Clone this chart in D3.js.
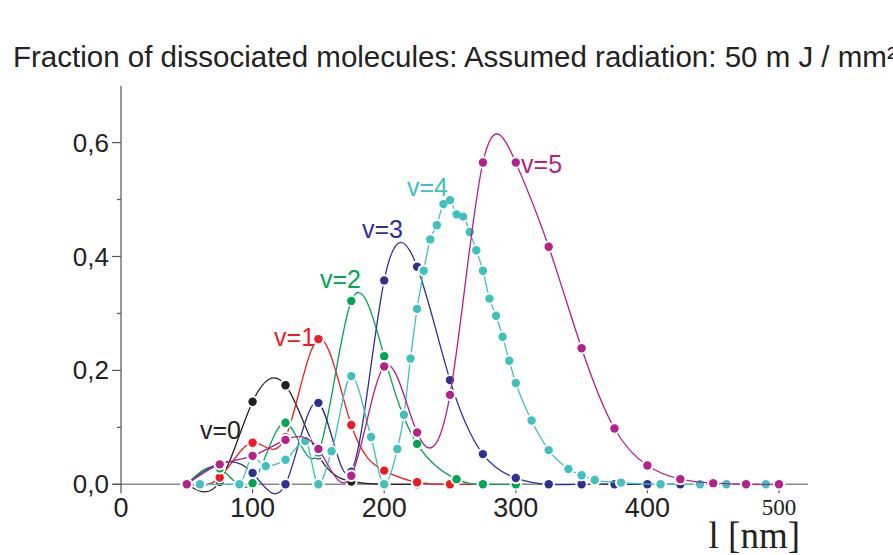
<!DOCTYPE html>
<html>
<head>
<meta charset="utf-8">
<script src="https://cdn.jsdelivr.net/npm/d3@7/dist/d3.min.js"></script>
<style>
  html, body { margin: 0; padding: 0; background: #fff; }
  svg { display: block; }
</style>
</head>
<body>
<svg id="chart" width="893" height="555"></svg>
<script>
// Wavelength grid (nm) shared by most vibrational levels
const lambdaGrid = [50, 75, 100, 125, 150, 175, 200, 225, 250, 275, 300, 325, 350, 375, 400, 425, 450, 475, 500];

// Fraction of dissociated molecules per vibrational level v
const v0 = { x: [50, 75, 100, 125, 150, 175, 200, 225],
             y: [0, 0.0045, 0.145, 0.174, 0.051, 0.005, 0, 0] };
const v1 = { x: [50, 75, 100, 125, 150, 175, 200, 225, 250, 275],
             y: [0, 0.012, 0.073, 0.0825, 0.255, 0.104, 0.024, 0.0035, 0, 0] };
const v2 = { x: [50, 75, 100, 125, 150, 175, 200, 225, 255, 275, 300],
             y: [0, 0.028, 0.002, 0.108, 0.056, 0.322, 0.225, 0.071, 0.009, 0, 0] };
const v3 = { x: [50, 75, 100, 125, 150, 175, 200, 225, 250, 275, 300, 325, 350, 375, 400, 425],
             y: [0, 0.037, 0.02, 0, 0.143, 0.022, 0.358, 0.382, 0.183, 0.053, 0.011, 0, 0, 0, 0, 0] };
const v4 = { x: [60, 90, 100, 110, 125, 140, 150, 160, 175, 190, 200, 210, 215, 220, 225, 230, 235, 240, 245, 250,
                 255, 260, 265, 270, 275, 280, 285, 290, 295, 300, 312, 325, 340, 350, 360, 380, 410, 440, 460, 490],
             y: [0, 0, 0.048, 0.032, 0.043, 0.076, 0, 0.058, 0.19, 0.083, 0, 0.062, 0.122, 0.221, 0.308, 0.375, 0.43, 0.455, 0.492, 0.499,
                 0.474, 0.47, 0.443, 0.411, 0.375, 0.326, 0.296, 0.259, 0.217, 0.178, 0.112, 0.06, 0.027, 0.016, 0.0075, 0.003, 0, 0, 0, 0] };
const v5 = { x: lambdaGrid,
             y: [0, 0.035, 0.05, 0.078, 0.062, 0.015, 0.207, 0.091, 0.157, 0.565, 0.565, 0.417, 0.239, 0.098, 0.033, 0.009, 0.002, 0, 0] };

const seriesNames = ["v=0", "v=1", "v=2", "v=3", "v=4", "v=5"];
const seriesData = [v0, v1, v2, v3, v4, v5];
const seriesColors = ["#231f20", "#ed1c24", "#00a651", "#2e3192", "#3fc1bf", "#b3218d"];
// label anchor positions in data units (lambda, fraction), text baseline-left
const labelAt = [[60, 0.0795], [116.3, 0.243], [151.2, 0.345], [183.1, 0.4325], [217.3, 0.506], [304, 0.5466]];

const yTicksMajor = [0, 0.2, 0.4, 0.6];
const yTicksMinor = [0.1, 0.3, 0.5];
const xTicks = [0, 100, 200, 300, 400, 500];

const svg = d3.select("#chart");
const x = d3.scaleLinear().domain([0, 500]).range([121, 779]);
const y = d3.scaleLinear().domain([0, 0.7]).range([484.3, 85.65]);

const axisColor = "#555";
const sans = "'Liberation Sans', Arial, sans-serif";
const serif = "'Liberation Serif', 'Times New Roman', serif";

// Title
svg.append("text")
  .attr("x", 13).attr("y", 67)
  .attr("font-family", sans).attr("font-size", 29.5).attr("fill", "#222")
  .text("Fraction of dissociated molecules: Assumed radiation: 50 m J / mm²");

// Axes
const ax = svg.append("g");
ax.append("line")
  .attr("x1", x(-6)).attr("x2", x(522)).attr("y1", y(0)).attr("y2", y(0))
  .attr("stroke", "#888").attr("stroke-width", 1.6);
ax.append("line")
  .attr("x1", x(0)).attr("x2", x(0)).attr("y1", y(0)).attr("y2", y(0.7))
  .attr("stroke", axisColor).attr("stroke-width", 1.2);

ax.selectAll(".ymaj").data(yTicksMajor).join("line")
  .attr("x1", x(0) - 9).attr("x2", x(0)).attr("y1", d => y(d)).attr("y2", d => y(d))
  .attr("stroke", axisColor).attr("stroke-width", 1.2);
ax.selectAll(".ymin").data(yTicksMinor).join("line")
  .attr("x1", x(0) - 4).attr("x2", x(0)).attr("y1", d => y(d)).attr("y2", d => y(d))
  .attr("stroke", axisColor).attr("stroke-width", 1.2);
ax.selectAll(".ylab").data(yTicksMajor).join("text")
  .attr("x", x(0) - 12).attr("y", d => y(d) + 9)
  .attr("text-anchor", "end")
  .attr("font-family", sans).attr("font-size", 26).attr("fill", "#222")
  .text(d => d3.format(".1f")(d).replace(".", ","));

ax.selectAll(".xt").data(xTicks).join("line")
  .attr("x1", d => x(d)).attr("x2", d => x(d)).attr("y1", y(0)).attr("y2", y(0) + 9)
  .attr("stroke", axisColor).attr("stroke-width", 1.2);
ax.selectAll(".xlab").data(xTicks).join("text")
  .attr("x", d => x(d)).attr("y", d => d === 500 ? 515 : 517)
  .attr("text-anchor", "middle")
  .attr("font-family", d => d === 500 ? serif : sans)
  .attr("font-size", d => d === 500 ? 23 : 27)
  .attr("fill", "#222")
  .text(d => d);

svg.append("text")
  .attr("x", 800).attr("y", 548).attr("text-anchor", "end")
  .attr("font-family", serif).attr("font-size", 37).attr("fill", "#222")
  .text("l [nm]");

// Series: smooth curves through the points, dots with a white halo
seriesData.forEach((s, i) => {
  const pts = s.x.map((xv, j) => [xv, s.y[j]]);
  const curve = i === 4 ? d3.curveMonotoneX : d3.curveNatural;
  const line = d3.line().x(d => x(d[0])).y(d => y(d[1])).curve(curve);
  const g = svg.append("g");
  g.append("path").attr("d", line(pts))
    .attr("fill", "none").attr("stroke", seriesColors[i]).attr("stroke-width", 1.3);
  g.selectAll(".halo").data(pts).join("circle")
    .attr("cx", d => x(d[0])).attr("cy", d => y(d[1])).attr("r", 6.2).attr("fill", "#fff");
  g.selectAll(".dot").data(pts).join("circle")
    .attr("cx", d => x(d[0])).attr("cy", d => y(d[1])).attr("r", 4.2).attr("fill", seriesColors[i]);
  g.append("text")
    .attr("x", x(labelAt[i][0])).attr("y", y(labelAt[i][1]))
    .attr("font-family", sans).attr("font-size", 25).attr("fill", seriesColors[i])
    .text(seriesNames[i]);
});
</script>
</body>
</html>
